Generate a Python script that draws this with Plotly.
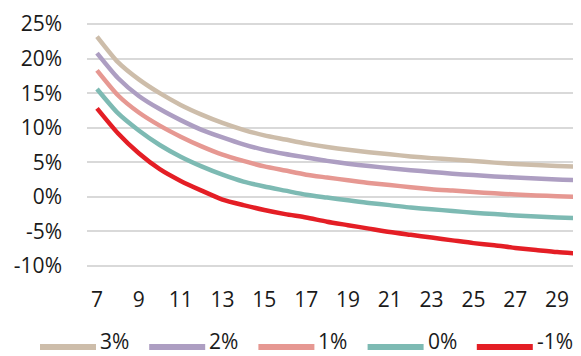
import plotly.graph_objects as go

years = list(range(7, 31))
x_ticks = list(range(7, 30, 2))
y_ticks = [-10, -5, 0, 5, 10, 15, 20, 25]
y_labels = ["-10%", "-5%", "0%", "5%", "10%", "15%", "20%", "25%"]

s_3 = [23.2, 19.5, 17.0, 15.0, 13.3, 11.9, 10.7, 9.7, 8.9, 8.3, 7.7, 7.2,
       6.8, 6.45, 6.15, 5.85, 5.6, 5.4, 5.2, 4.95, 4.75, 4.6, 4.45, 4.35]
s_2 = [20.8, 17.2, 14.6, 12.7, 11.1, 9.7, 8.6, 7.6, 6.8, 6.2, 5.7, 5.2,
       4.8, 4.45, 4.15, 3.85, 3.6, 3.35, 3.15, 2.95, 2.8, 2.65, 2.5, 2.42]
s_1 = [18.3, 14.7, 12.2, 10.3, 8.7, 7.3, 6.1, 5.2, 4.4, 3.8, 3.2, 2.8,
       2.4, 2.0, 1.7, 1.4, 1.1, 0.9, 0.7, 0.5, 0.35, 0.2, 0.1, 0.0]
s_0 = [15.6, 12.1, 9.6, 7.5, 5.8, 4.4, 3.2, 2.2, 1.5, 0.9, 0.3, -0.1,
       -0.5, -0.9, -1.2, -1.55, -1.8, -2.05, -2.3, -2.5, -2.7, -2.85, -3.0, -3.1]
s_m1 = [12.8, 9.2, 6.3, 4.0, 2.3, 0.9, -0.4, -1.2, -1.9, -2.5, -3.0, -3.6,
        -4.1, -4.6, -5.1, -5.5, -5.9, -6.3, -6.7, -7.0, -7.4, -7.7, -8.0, -8.2]

series = [
    ("3%", s_3, "#CDBDAA"),
    ("2%", s_2, "#AD9EC2"),
    ("1%", s_1, "#E69892"),
    ("0%", s_0, "#7DBAB3"),
    ("-1%", s_m1, "#E41E25"),
]

FONT = "Open Sans"
# the page body has an 8px margin, so the figure is 8px smaller each way
OFF = 8
W, H = 581 - OFF, 356 - OFF
L, R, T, B = 87 - OFF, 0, 22 - OFF, 88
plot_w = W - L - R
plot_h = H - T - B

fig = go.Figure()
for name, vals, color in series:
    fig.add_trace(go.Scatter(
        x=years, y=vals, name=name, mode="lines", showlegend=False,
        line=dict(color=color, width=4.5, shape="spline", smoothing=0.6),
    ))

# legend drawn by hand so the samples are long like the original
line_y = (H - B - (347 - OFF)) / plot_h
text_y = (H - B - (341 - OFF)) / plot_h
for i, (name, vals, color) in enumerate(series):
    x0 = 40 - OFF + i * 109.2
    fig.add_shape(type="line", xref="paper", yref="paper",
                  x0=(x0 - L) / plot_w, x1=(x0 + 56 - L) / plot_w,
                  y0=line_y, y1=line_y, line=dict(color=color, width=6))
    fig.add_annotation(xref="paper", yref="paper", x=(x0 + 59 - L) / plot_w,
                       y=text_y, text=name, showarrow=False,
                       xanchor="left", yanchor="middle", borderpad=0)

fig.update_layout(
    width=W, height=H,
    margin=dict(l=L, r=R, t=T, b=B, autoexpand=False),
    plot_bgcolor="white", paper_bgcolor="white",
    font=dict(family=FONT, size=21, color="#1a1a1a"),
    showlegend=False,
)
fig.update_xaxes(
    range=[6.522, 30.143], tickvals=x_ticks,
    showgrid=False, zeroline=False, showline=False, ticks="",
    ticklabelstandoff=17, automargin=False,
)
fig.update_yaxes(
    range=[-10.3, 25.3], tickvals=y_ticks, ticktext=y_labels,
    showgrid=True, gridcolor="#D9D9D9", gridwidth=1.5,
    zeroline=False, showline=False, ticks="", ticklabelstandoff=24,
    automargin=False,
)

fig.write_html("out.html")
